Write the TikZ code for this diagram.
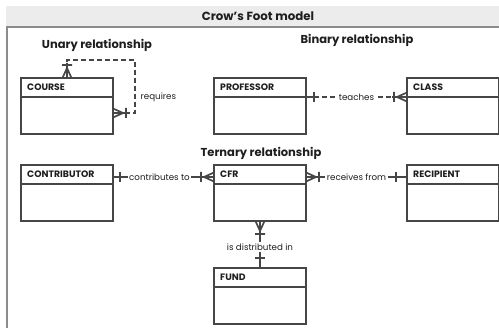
\documentclass[tikz,border=0pt]{standalone}
\usepackage{fontspec}
\setmainfont{Poppins}
\definecolor{boxc}{HTML}{464646}
\definecolor{framec}{HTML}{8C8C8C}
\definecolor{headc}{HTML}{ECECEC}
\definecolor{txtc}{HTML}{1E1E1E}
\begin{document}
\begin{tikzpicture}[x=1pt,y=-1pt,
  ent/.style={draw=boxc, line width=1.8pt, minimum width=92pt, minimum height=56pt, inner sep=0pt, outer sep=0pt, anchor=north west},
  divider/.style={draw=boxc, line width=1.8pt},
  enttxt/.style={font=\bfseries\fontsize{9.3}{11}\selectfont, text=txtc, inner sep=0pt, anchor=west},
  heading/.style={font=\bfseries\fontsize{11.5}{13}\selectfont, text=txtc, inner sep=0pt},
  rel/.style={font=\fontsize{8.7}{10}\selectfont, text=txtc, fill=white, inner sep=1.5pt},
  conn/.style={draw=boxc, line width=1.7pt},
  dconn/.style={conn, dash pattern=on 5pt off 3pt},
  onemany/.pic={\draw[conn] (0,0) -- (15,0) (10,0) -- (0,-4.5) (10,0) -- (0,4.5) (13,-5) -- (13,5);},
  onebar/.pic={\draw[conn] (-4,0) -- (4,0) (0,-5) -- (0,5);}
]
\useasboundingbox (0,0) rectangle (499,328);
% frame
\fill[headc] (6,6) rectangle (499,27);
\draw[framec, line width=1.6pt] (6,27) -- (499,27);
\draw[framec, line width=2pt] (7,27) -- (7,328);
\node[font=\bfseries\fontsize{11.8}{13}\selectfont, text=txtc, inner sep=0pt] (title) at (258,16) {Crow's Foot model};
% headings
\node[heading] (hu) at (97,45) {Unary relationship};
\node[heading] (hb) at (357,40) {Binary relationship};
\node[heading] (ht) at (261,153) {Ternary relationship};
% entities
\newcommand\entity[4]{%
  \node[ent] (#1) at (#2,#3) {};
  \draw[divider] ([yshift=-19pt]#1.north west) -- ([yshift=-19pt]#1.north east);
  \node[enttxt] (#1-t) at ([xshift=6pt,yshift=-9.5pt]#1.north west) {#4};
}
\entity{course}{21}{78}{COURSE}
\entity{professor}{214}{78}{PROFESSOR}
\entity{class}{407}{78}{CLASS}
\entity{contributor}{21}{165}{CONTRIBUTOR}
\entity{cfr}{214}{165}{CFR}
\entity{recipient}{407}{165}{RECIPIENT}
\entity{fund}{214}{268}{FUND}
% unary
\coordinate (ua) at ([xshift=46pt]course.north west);
\coordinate (ub) at ([yshift=-35pt]course.north east);
\draw[dconn] (ua) -- ++(0,-18) -| ([xshift=22pt]ub) -- (ub);
\node[rel, fill=none, anchor=west] (lreq) at (139,97) {requires};
\path (ua) pic[rotate=90]{onemany};
\path (ub) pic{onemany};
% binary
\coordinate (pe) at ([yshift=-19pt]professor.north east);
\coordinate (cw) at ([yshift=-19pt]class.north west);
\draw[dconn] (pe) -- node[rel, inner xsep=3pt] (lteach) {teaches} (cw);
\draw[conn] (pe) -- ++(11,0);
\path ([xshift=8pt]pe) pic{onebar};
\path (cw) pic[rotate=180]{onemany};
% ternary
\coordinate (ce) at ([yshift=-12pt]contributor.north east);
\coordinate (fw) at ([yshift=-12pt]cfr.north west);
\coordinate (fe) at ([yshift=-12pt]cfr.north east);
\coordinate (rw) at ([yshift=-12pt]recipient.north west);
\draw[conn] (ce) -- node[rel, pos=0.46] (lcontr) {contributes to} (fw);
\path ([xshift=7pt]ce) pic{onebar};
\path (fw) pic[rotate=180]{onemany};
\draw[conn] (fe) -- node[rel] (lrecv) {receives from} (rw);
\path ([xshift=-11pt]rw) pic{onebar};
\path (fe) pic{onemany};
\draw[conn] (cfr.south) -- node[rel, pos=0.55] (ldist) {is distributed in} (fund.north);
\path (cfr.south) pic[rotate=-90]{onemany};
\path ([yshift=10pt]fund.north) pic[rotate=90]{onebar};
\end{tikzpicture}
\end{document}
